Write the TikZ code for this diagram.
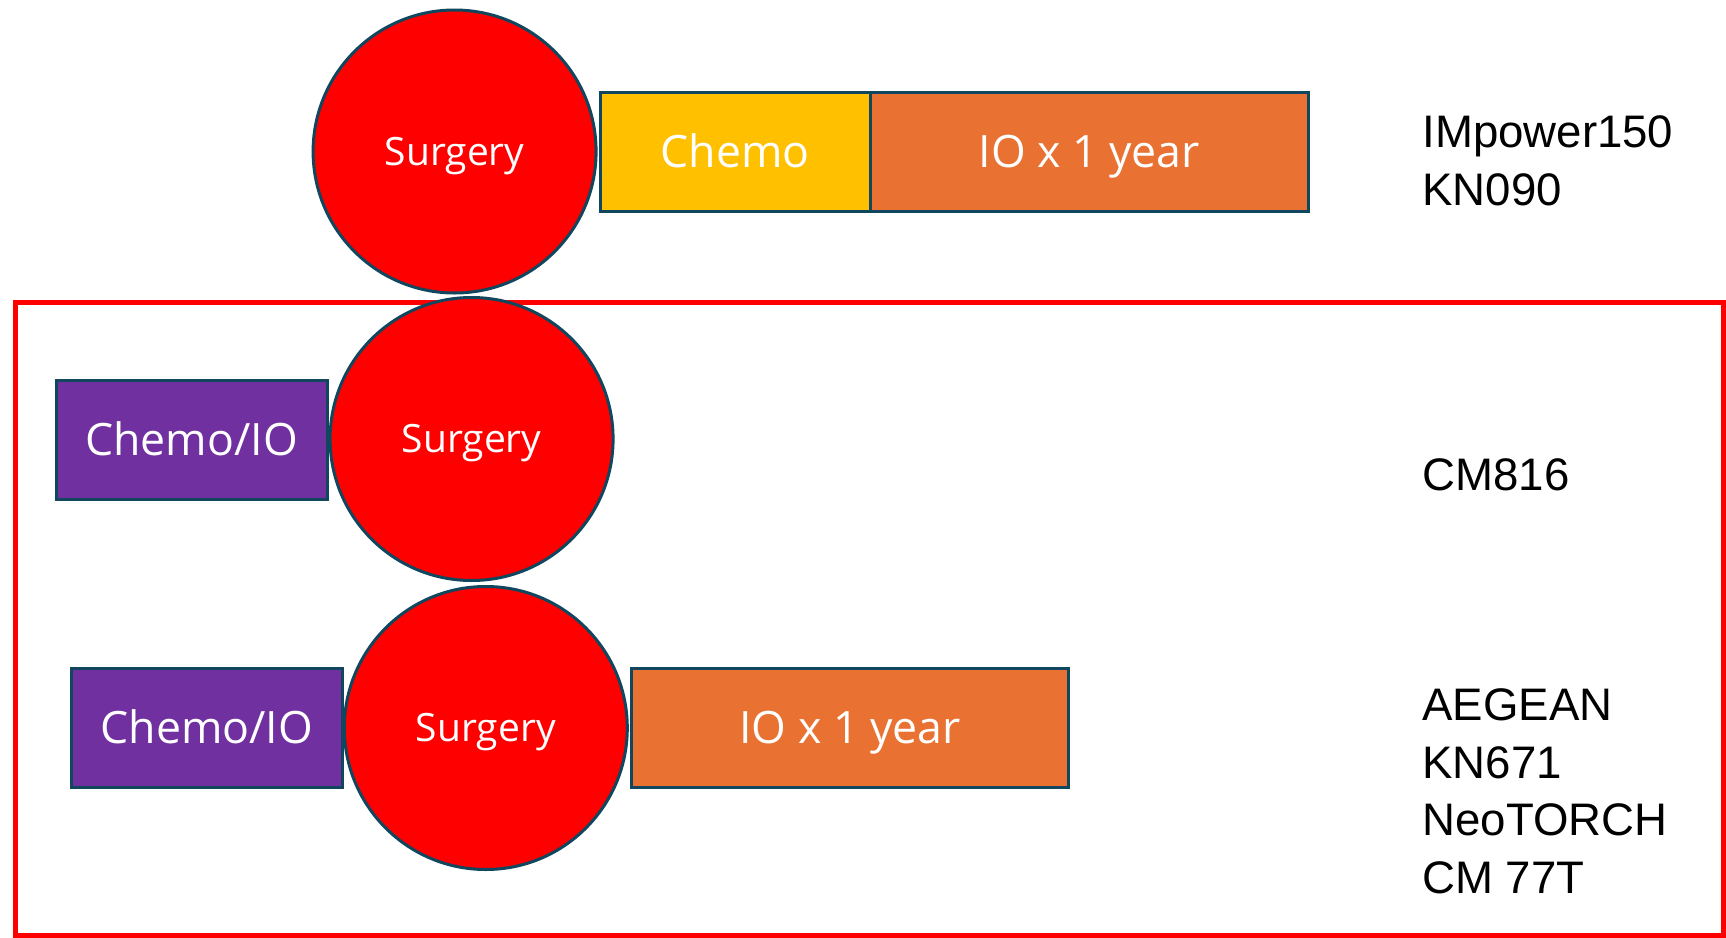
\documentclass[tikz,border=0pt]{standalone}
\usepackage{fontspec}
\setmainfont{Liberation Sans}
\newfontfamily\boxfont{Open Sans}
\usetikzlibrary{positioning}
\definecolor{edgeblue}{HTML}{10475E}
\definecolor{chemoyellow}{HTML}{FFC000}
\definecolor{ioorange}{HTML}{E97132}
\definecolor{ciopurple}{HTML}{7030A0}
\tikzset{
  surgery/.style = {circle, draw = edgeblue, line width = 1.5pt, fill = red, minimum size = 141.5pt,
    inner sep = 0pt, outer sep = 0pt, text = white, text height = 13.9pt, text depth = 0pt,
    font = \boxfont\fontsize{19.5}{23}\selectfont},
  therapy/.style = {rectangle, draw = edgeblue, line width = 1.5pt, minimum height = 59.5pt,
    inner sep = 0pt, outer sep = 0pt, text = white, text height = 15.9pt, text depth = 0pt,
    font = \boxfont\fontsize{22.3}{26}\selectfont},
  trial/.style = {anchor = north west, align = left, inner sep = 0pt, font = \fontsize{22.8}{28.75}\selectfont}
}
\begin{document}
\begin{tikzpicture}[x = 0.5pt, y = -0.5pt]
  \useasboundingbox (0, 0) rectangle (1726, 938);
  % neoadjuvant / perioperative frame
  \draw[red, line width = 2.5pt] (15, 302) rectangle (1723.5, 935);
  % adjuvant
  \node[therapy, fill = chemoyellow, minimum width = 135pt, anchor = west] (chemoA) at (600, 152) {Chemo};
  \node[therapy, fill = ioorange, minimum width = 219.25pt, right = 0pt of chemoA] (ioA) {IO x 1 year};
  \node[surgery] (surgA) at (454.6, 151.5) {Surgery};
  % neoadjuvant
  \node[therapy, fill = ciopurple, minimum width = 135.5pt, anchor = east] (cioB) at (327, 440) {Chemo/IO};
  \node[surgery] (surgB) at (471.6, 439) {Surgery};
  % perioperative
  \node[therapy, fill = ciopurple, minimum width = 135.25pt, anchor = east] (cioC) at (342, 728) {Chemo/IO};
  \node[therapy, fill = ioorange, minimum width = 218.5pt, anchor = west] (ioC) at (631.5, 728) {IO x 1 year};
  \node[surgery] (surgC) at (485.8, 728) {Surgery};
  % trials
  \node[trial] (trialA) at (1422, 115.4) {IMpower150\\KN090};
  \node[trial] (trialB) at (1422, 458.5) {CM816};
  \node[trial] (trialC) at (1422, 688.3) {AEGEAN\\KN671\\NeoTORCH\\CM 77T};
\end{tikzpicture}
\end{document}
